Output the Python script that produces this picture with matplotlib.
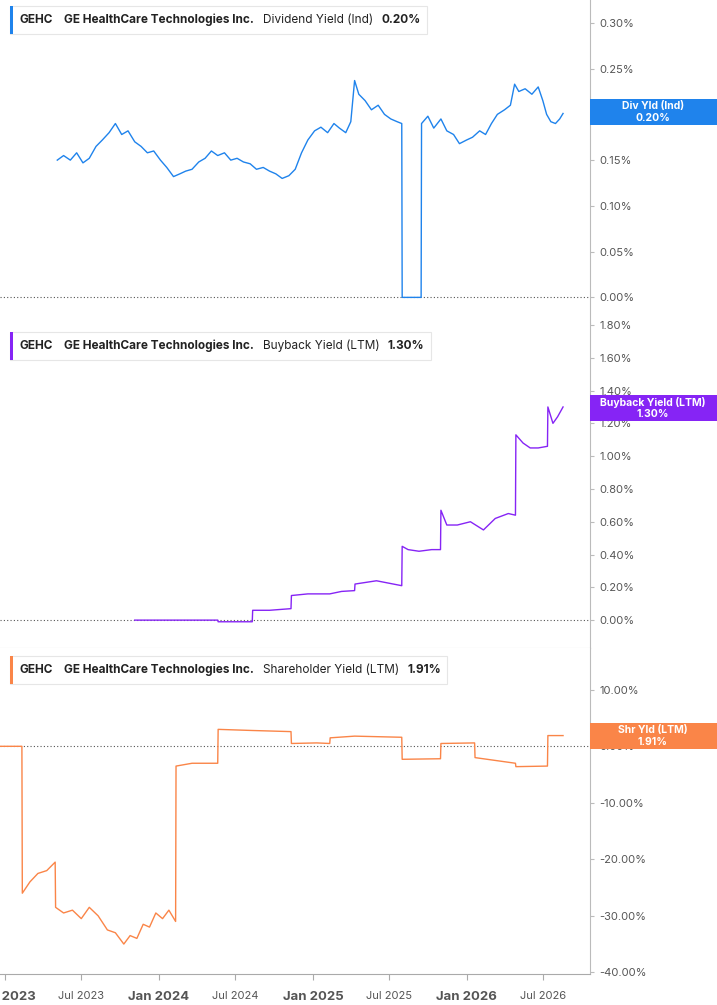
import matplotlib
matplotlib.use("Agg")
import matplotlib.pyplot as plt
import pandas as pd
from matplotlib.patches import Rectangle

plt.rcParams['font.family'] = ['Inter', 'DejaVu Sans']

div_dates = ["2023-05-05","2023-05-20","2023-06-05","2023-06-20","2023-07-05","2023-07-20","2023-08-05","2023-08-20",
 "2023-09-05","2023-09-20","2023-10-05","2023-10-20","2023-11-05","2023-11-20","2023-12-05","2023-12-20",
 "2024-01-05","2024-01-20","2024-02-05","2024-02-20","2024-03-05","2024-03-20","2024-04-05","2024-04-20",
 "2024-05-05","2024-05-20","2024-06-05","2024-06-20","2024-07-05","2024-07-20","2024-08-05","2024-08-20",
 "2024-09-05","2024-09-20","2024-10-05","2024-10-20","2024-11-05","2024-11-20","2024-12-05","2024-12-20",
 "2025-01-05","2025-01-20","2025-02-05","2025-02-20","2025-03-05","2025-03-20","2025-04-01","2025-04-10",
 "2025-04-20","2025-05-05","2025-05-20","2025-06-05","2025-06-20","2025-07-05","2025-07-20","2025-07-31",
 "2025-08-01","2025-09-15","2025-09-16","2025-10-01","2025-10-15","2025-11-01","2025-11-15","2025-12-01",
 "2025-12-15","2026-01-01","2026-01-15","2026-02-01","2026-02-15","2026-03-01","2026-03-15","2026-04-01",
 "2026-04-15","2026-04-25","2026-05-05","2026-05-20","2026-06-05","2026-06-20","2026-07-01","2026-07-10",
 "2026-07-20","2026-07-31","2026-08-10","2026-08-18"]
div_vals = [0.150,0.155,0.150,0.158,0.147,0.152,0.165,0.172,0.180,0.190,0.178,0.182,0.170,0.165,0.158,0.160,
 0.150,0.142,0.132,0.135,0.138,0.140,0.148,0.152,0.160,0.155,0.158,0.150,0.152,0.148,0.146,0.140,
 0.142,0.138,0.135,0.130,0.133,0.140,0.158,0.172,0.182,0.186,0.180,0.190,0.185,0.180,0.192,0.237,
 0.222,0.215,0.205,0.210,0.200,0.195,0.192,0.190,
 0.0,0.0,0.190,0.198,0.185,0.195,0.182,0.178,
 0.168,0.172,0.175,0.182,0.178,0.190,0.200,0.205,
 0.210,0.233,0.225,0.228,0.222,0.230,0.215,0.200,
 0.192,0.190,0.195,0.201]

bb_dates = ["2023-11-05","2024-05-20","2024-05-21","2024-08-10","2024-08-11","2024-09-20","2024-11-10","2024-11-11",
 "2024-12-20","2025-02-10","2025-03-10","2025-04-10","2025-04-11","2025-06-01","2025-07-31","2025-08-01","2025-08-15",
 "2025-09-10","2025-10-10","2025-10-31","2025-11-01","2025-11-15","2025-12-10","2026-01-10","2026-02-10",
 "2026-03-10","2026-04-10","2026-04-27","2026-04-28","2026-05-15","2026-06-01","2026-06-20","2026-07-12","2026-07-13",
 "2026-07-25","2026-08-05","2026-08-18"]
bb_vals = [0.0,0.0,-0.01,-0.01,0.06,0.06,0.07,0.15,0.16,0.16,0.175,0.18,0.22,0.24,0.21,0.45,0.43,
 0.42,0.43,0.43,0.67,0.58,0.58,0.60,0.55,0.62,0.65,0.64,1.13,1.08,1.05,1.05,1.06,1.30,
 1.20,1.24,1.30]

sh_dates = ["2022-12-20","2023-02-10","2023-02-11","2023-03-01","2023-03-20","2023-04-10","2023-04-30","2023-05-01",
 "2023-05-20","2023-06-10","2023-07-01","2023-07-20","2023-08-10","2023-09-01","2023-09-20","2023-10-10","2023-10-25",
 "2023-11-10","2023-11-25","2023-12-10","2023-12-25","2024-01-10","2024-01-25","2024-02-10","2024-02-11",
 "2024-03-20","2024-05-20","2024-05-21","2024-08-10","2024-11-10","2024-11-11","2025-01-10","2025-02-10","2025-02-11",
 "2025-04-10","2025-07-31","2025-08-01","2025-10-31","2025-11-01","2026-01-20","2026-01-21","2026-04-27","2026-04-28",
 "2026-07-12","2026-07-13","2026-08-18"]
sh_vals = [0.0,0.0,-26.0,-24.0,-22.5,-22.0,-20.5,-28.5,-29.5,-29.0,-30.5,-28.5,-30.0,-32.5,-33.0,-35.0,-33.5,
 -34.0,-31.5,-32.0,-29.5,-30.5,-29.0,-31.0,-3.5,
 -3.0,-3.0,3.0,2.8,2.6,0.5,0.6,0.5,1.5,
 1.8,1.6,-2.3,-2.2,0.5,0.6,-2.0,-3.0,-3.6,
 -3.5,1.9,1.9]

BLUE = "#1f83ec"; PURP = "#8624f5"; ORNG = "#fa8548"
W, H = 717, 1005
fig = plt.figure(figsize=(W/100, H/100), dpi=100)
renderer = fig.canvas.get_renderer()
xmin, xmax = pd.Timestamp("2022-12-20"), pd.Timestamp("2026-10-21")

def mkax(top, bot, ylo, yhi):
    ax = fig.add_axes([0, 1-bot/H, 590/W, (bot-top)/H])
    ax.set_xlim(xmin, xmax); ax.set_ylim(ylo, yhi)
    for s in ["top", "left"]:
        ax.spines[s].set_visible(False)
    ax.spines["right"].set_color("#bbbbbb")
    ax.spines["bottom"].set_color("#cccccc")
    ax.yaxis.tick_right()
    ax.tick_params(axis="y", length=3, colors="#bbbbbb", labelcolor="#555555", labelsize=8)
    ax.axhline(0, color="#555555", ls=(0, (1, 2)), lw=0.8)
    return ax

def legend(y, color, text, val):
    x = 20
    parts = [("GEHC", "bold", 11), ("GE HealthCare Technologies Inc.", "bold", 9),
             (text, "normal", 8), (val, "bold", 0)]
    for s, wgt, gap in parts:
        t = fig.text(x/W, 1-y/H, s, fontsize=8.5, weight=wgt, va="center", color="#222222", zorder=7)
        x += t.get_window_extent(renderer).width + gap
    width = x + 6 - 10
    fig.patches.append(Rectangle((10/W, 1-(y+14)/H), width/W, 28/H, transform=fig.transFigure,
                                 facecolor="white", edgecolor="#e6e6e6", lw=0.8, zorder=5))
    fig.patches.append(Rectangle((10/W, 1-(y+14)/H), 3/W, 28/H, transform=fig.transFigure,
                                 facecolor=color, edgecolor="none", zorder=6))

def tag(y, color, l1, l2):
    fig.patches.append(Rectangle((590/W, 1-(y+13)/H), 127/W, 26/H, transform=fig.transFigure,
                                 facecolor=color, edgecolor="none", zorder=5))
    fig.text(653/W, 1-(y-6)/H, l1, fontsize=7.5, weight="bold", color="white", ha="center", va="center", zorder=6)
    fig.text(653/W, 1-(y+6)/H, l2, fontsize=7.5, weight="bold", color="white", ha="center", va="center", zorder=6)

ax1 = mkax(0, 323, -0.028, 0.325)
ax1.plot(pd.to_datetime(div_dates), div_vals, color=BLUE, lw=1)
t1 = [0, .05, .1, .15, .2, .25, .3]
ax1.set_yticks(t1); ax1.set_yticklabels([f"{v:.2f}%" for v in t1])
ax1.set_xticks([]); ax1.spines["bottom"].set_visible(False)
legend(20, BLUE, "Dividend Yield (Ind)", "0.20%")
tag(112, BLUE, "Div Yld (Ind)", "0.20%")

ax2 = mkax(323, 648, -0.17, 1.812)
ax2.plot(pd.to_datetime(bb_dates), bb_vals, color=PURP, lw=1)
t2 = [0, .2, .4, .6, .8, 1.0, 1.2, 1.4, 1.6, 1.8]
ax2.set_yticks(t2); ax2.set_yticklabels([f"{v:.2f}%" for v in t2])
ax2.set_xticks([])
legend(346, PURP, "Buyback Yield (LTM)", "1.30%")
tag(408, PURP, "Buyback Yield (LTM)", "1.30%")

ax3 = mkax(648, 974, -40.3, 17.4)
ax3.plot(pd.to_datetime(sh_dates), sh_vals, color=ORNG, lw=1)
t3 = [-40, -30, -20, -10, 0, 10]
ax3.set_yticks(t3); ax3.set_yticklabels([f"{v:.2f}%" for v in t3])
ax3.spines["bottom"].set_color("#aaaaaa")
legend(670, ORNG, "Shareholder Yield (LTM)", "1.91%")
tag(736, ORNG, "Shr Yld (LTM)", "1.91%")

xt = pd.to_datetime(["2023-01-01","2023-07-01","2024-01-01","2024-07-01","2025-01-01","2025-07-01","2026-01-01","2026-07-01"])
ax3.set_xticks(xt)
ax3.set_xticklabels(["Jan 2023","Jul 2023","Jan 2024","Jul 2024","Jan 2025","Jul 2025","Jan 2026","Jul 2026"])
for lab in ax3.get_xticklabels():
    if lab.get_text().startswith("Jan"):
        lab.set_fontweight("bold"); lab.set_fontsize(9.5)
    else:
        lab.set_fontsize(8)
    lab.set_color("#555555")
ax3.tick_params(axis="x", length=4, colors="#aaaaaa", pad=8)
for lab in ax3.get_xticklabels():
    lab.set_color("#555555")

fig.savefig("out.png", dpi=100)
